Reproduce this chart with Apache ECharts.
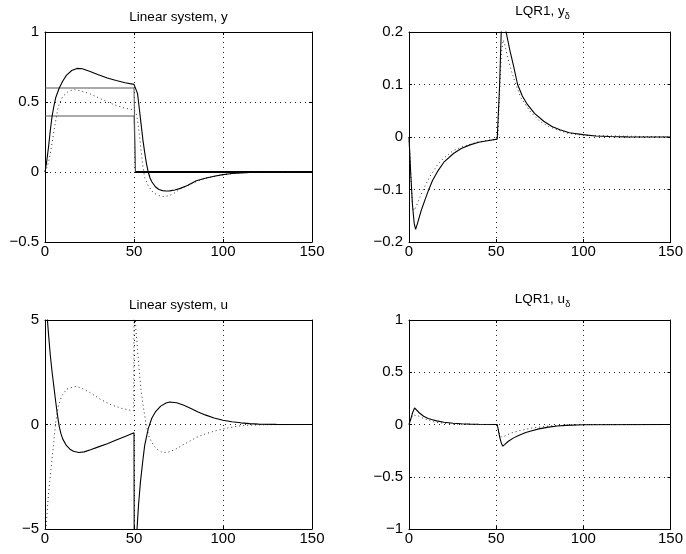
<!DOCTYPE html>
<html><head><meta charset="utf-8">
<script src="https://cdn.jsdelivr.net/npm/echarts@6/dist/echarts.min.js"></script>
<style>html,body{margin:0;padding:0;background:#fff}#c{width:686px;height:554px}</style>
</head><body><div id="c"></div>
<script>
// ---- tick definitions ----
const xTicks = [0, 50, 100, 150];
const yTicks1 = [-0.5, 0, 0.5, 1];
const yTicks2 = [-0.2, -0.1, 0, 0.1, 0.2];
const yTicks3 = [-5, 0, 5];
const yTicks4 = [-1, -0.5, 0, 0.5, 1];

// ---- Panel 1: Linear system, y ----
const p1SolidT = [0,1,2,3,4,5,6,8,10,12,15,18,21,25,30,35,40,45,50,51,52,53,54,55,56,57,58,59,60,62,64,66,68,70,73,76,80,85,90,95,100,105,110,115,120,130,140,150];
const p1SolidY = [0,0.08,0.18,0.3,0.4,0.47,0.53,0.6,0.65,0.69,0.725,0.74,0.737,0.72,0.695,0.672,0.653,0.638,0.626,0.62,0.56,0.45,0.34,0.23,0.14,0.06,0.0,-0.043,-0.07,-0.105,-0.125,-0.133,-0.136,-0.135,-0.128,-0.117,-0.097,-0.062,-0.045,-0.03,-0.019,-0.011,-0.006,-0.003,-0.0015,0,0,0];
const p1DotT = [0,1,2,3,4,5.5,7.5,10,13,16,20,25,30,35,40,45,50,51,52,53,54,55,56,58,61,64,67,70,73,76,80,85,90,100,110,120,150];
const p1DotY = [0,0.03,0.07,0.13,0.21,0.33,0.47,0.54,0.575,0.589,0.58,0.56,0.53,0.5,0.475,0.455,0.445,0.43,0.37,0.27,0.15,0.04,-0.04,-0.1,-0.15,-0.168,-0.176,-0.168,-0.148,-0.12,-0.097,-0.068,-0.045,-0.019,-0.006,-0.0015,0];
const p1UpperT = [0,50,50.8];
const p1UpperY = [0.6,0.6,0];
const p1LowerT = [0,50,50.8];
const p1LowerY = [0.4,0.4,0];
const p1ZeroT = [50.8,150];
const p1ZeroY = [0,0];

// ---- Panel 2: LQR1, y_delta ----
const p2SolidT = [0,1,2,3,3.8,5,7,8.8,11,13.5,16.3,20,25.7,30,35,40,45,50.6,51,52,52.9,54,55,55.7,58,60,62.3,65,67.9,72,77.3,82,86.6,92,99.8,107,115,125,150];
const p2SolidY = [0,-0.07,-0.13,-0.165,-0.176,-0.163,-0.14,-0.123,-0.103,-0.083,-0.066,-0.048,-0.031,-0.022,-0.015,-0.01,-0.007,-0.004,-0.002,0.1,0.2,0.24,0.22,0.2,0.163,0.135,0.1,0.078,0.062,0.045,0.03,0.02,0.014,0.008,0.0045,0.002,0.001,0.0003,0];
const p2DotT = [0,1,2,3,4,6,8.8,12,16.3,20,25,30,40,50,51,52,53,54,55,56.6,59,61.3,64.1,69.7,75,80,90,100,150];
const p2DotY = [0,-0.07,-0.13,-0.14,-0.133,-0.117,-0.096,-0.075,-0.053,-0.04,-0.027,-0.019,-0.009,-0.004,0,0.09,0.16,0.185,0.175,0.151,0.123,0.1,0.075,0.048,0.03,0.02,0.008,0.003,0];

// ---- Panel 3: Linear system, u ----
const p3SolidT = [0,1,2,3,4,5,6,7,8,9,10,12,14,16,19,22,26,30,35,40,45,50,50.2,51.7,52.5,53.6,55,56,58,60,62,65,68,70,74,78,82,86,90,95,100,105,110,115,120,130,150];
const p3SolidY = [6.5,5.4,4.3,3.3,2.5,1.8,1.1,0.45,-0.1,-0.45,-0.7,-1.0,-1.18,-1.28,-1.34,-1.31,-1.2,-1.07,-0.92,-0.74,-0.57,-0.4,-9,-5,-3.9,-2.77,-1.7,-1.0,-0.2,0.3,0.6,0.88,1.03,1.08,1.04,0.92,0.76,0.6,0.46,0.31,0.2,0.13,0.08,0.04,0.02,0.005,0];
const p3DotT = [0,0.6,1.35,2.2,3.2,4.1,5.1,6,7.5,9.4,12.2,16.9,20,25.3,31,37.5,44,49.8,50.1,51,52,53,54,55.5,57,58.5,61,63,66,69,73,77,81.6,85,90,95,100,108,115,125,150];
const p3DotY = [-6,-5,-4,-3.1,-2.3,-1.5,-0.7,0.1,0.89,1.37,1.69,1.82,1.76,1.53,1.21,0.93,0.75,0.65,7,4.6,3.6,2.5,1.6,0.7,-0.1,-0.6,-1.0,-1.18,-1.34,-1.33,-1.2,-1.0,-0.78,-0.62,-0.45,-0.32,-0.21,-0.08,-0.03,-0.01,0];

// ---- Panel 4: LQR1, u_delta ----
const p4SolidT = [0,1,2,3.2,4,6,8.4,11,13,15.9,20,25.3,30,35,40,50.6,51,52,53,53.8,55,57,60,63.2,67,70,74.5,80,85,90,100,150];
const p4SolidY = [0,0.05,0.11,0.158,0.15,0.11,0.079,0.058,0.047,0.035,0.022,0.012,0.007,0.004,0.002,0,-0.01,-0.118,-0.18,-0.207,-0.19,-0.16,-0.128,-0.102,-0.077,-0.062,-0.042,-0.025,-0.014,-0.008,-0.002,0];
const p4DotT = [0,1,2,3,5,8,12,16,22,30,50,51,52,53,55,58,63,70,80,90,100,150];
const p4DotY = [0,0.05,0.09,0.1,0.085,0.06,0.035,0.02,0.008,0.002,0,-0.03,-0.09,-0.12,-0.11,-0.085,-0.06,-0.035,-0.015,-0.005,0,0];

const titles = ['Linear system, y', 'LQR1, y', 'Linear system, u', 'LQR1, u'];

// ---- build ----
const FONT = '"Liberation Sans", Arial, Helvetica, sans-serif';
function pairs(t, v) { return t.map((x, i) => [x, v[i]]); }
const grids = [
  {left: 45, top: 32, width: 267, height: 210},
  {left: 409, top: 32, width: 267, height: 210},
  {left: 45, top: 320, width: 267, height: 209},
  {left: 409, top: 320, width: 267, height: 209}
];
const yTickSets = [yTicks1, yTicks2, yTicks3, yTicks4];
const fmt = v => String(Number(v.toFixed(3))).replace('-', '\u2212');
const gridLine = {show: true, lineStyle: {color: '#222', width: 1, type: [1, 4]}};
const xAxis = [], yAxis = [];
grids.forEach((g, i) => {
  const xt = xTicks, yt = yTickSets[i];
  const xMin = xt[0], xMax = xt[xt.length - 1], xInt = xt[1] - xt[0];
  const yMin = yt[0], yMax = yt[yt.length - 1], yInt = yt[1] - yt[0];
  const common = {type: 'value', gridIndex: i, axisLine: {show: true, onZero: false, lineStyle: {color: '#000', width: 1}},
    axisTick: {show: true, inside: true, length: 3, lineStyle: {color: '#000'}}};
  xAxis.push(Object.assign({}, common, {position: 'bottom', min: xMin, max: xMax, interval: xInt,
    axisLabel: {show: true, margin: 2, color: '#000', fontSize: 15, fontFamily: FONT, formatter: fmt},
    splitLine: gridLine}));
  xAxis.push(Object.assign({}, common, {position: 'top', min: xMin, max: xMax, interval: xInt,
    axisLabel: {show: false}, splitLine: {show: false}}));
  yAxis.push(Object.assign({}, common, {position: 'left', min: yMin, max: yMax, interval: yInt,
    axisLabel: {show: true, margin: 6, color: '#000', fontSize: 15, fontFamily: FONT, formatter: fmt},
    splitLine: gridLine}));
  yAxis.push(Object.assign({}, common, {position: 'right', min: yMin, max: yMax, interval: yInt,
    axisLabel: {show: false}, splitLine: {show: false}}));
});
function line(i, t, v, style) {
  return {type: 'line', xAxisIndex: 2 * i, yAxisIndex: 2 * i, data: pairs(t, v), showSymbol: false, symbol: 'none',
    clip: true, animation: false, silent: true, lineStyle: style};
}
const solid = {color: '#000', width: 1.1};
const dotted = {color: '#333', width: 1, type: [1, 3]};
const bound = {color: '#555', width: 1};
const zeroRef = {color: '#000', width: 1.8};
const series = [
  line(0, p1UpperT, p1UpperY, bound),
  line(0, p1LowerT, p1LowerY, bound),
  line(0, p1ZeroT, p1ZeroY, zeroRef),
  line(0, p1DotT, p1DotY, dotted),
  line(0, p1SolidT, p1SolidY, solid),
  line(1, p2DotT, p2DotY, dotted),
  line(1, p2SolidT, p2SolidY, solid),
  line(2, p3DotT, p3DotY, dotted),
  line(2, p3SolidT, p3SolidY, solid),
  line(3, p4DotT, p4DotY, dotted),
  line(3, p4SolidT, p4SolidY, solid)
];
function plainTitle(i, dy) {
  const g = grids[i];
  return {type: 'text', x: g.left + g.width / 2, y: g.top - dy,
    style: {text: titles[i], font: '13.5px ' + FONT, fill: '#000', align: 'center', verticalAlign: 'middle'}};
}
function subTitle(i, dy) {
  const g = grids[i];
  return {type: 'text', x: g.left + g.width / 2, y: g.top - dy,
    style: {text: '{a|' + titles[i] + '}{b|\u03b4}', fill: '#000', align: 'center', verticalAlign: 'middle',
      rich: {a: {fontSize: 13.5, fontFamily: FONT, lineHeight: 20, fill: '#000'},
             b: {fontSize: 9, fontFamily: FONT, lineHeight: 9, verticalAlign: 'bottom', fill: '#000'}}}};
}
const chart = echarts.init(document.getElementById('c'), null, {renderer: 'canvas'});
chart.setOption({
  backgroundColor: '#fff',
  animation: false,
  grid: grids,
  xAxis: xAxis,
  yAxis: yAxis,
  series: series,
  graphic: [plainTitle(0, 15), subTitle(1, 20.5), plainTitle(2, 15), subTitle(3, 20.5)]
});
</script></body></html>
